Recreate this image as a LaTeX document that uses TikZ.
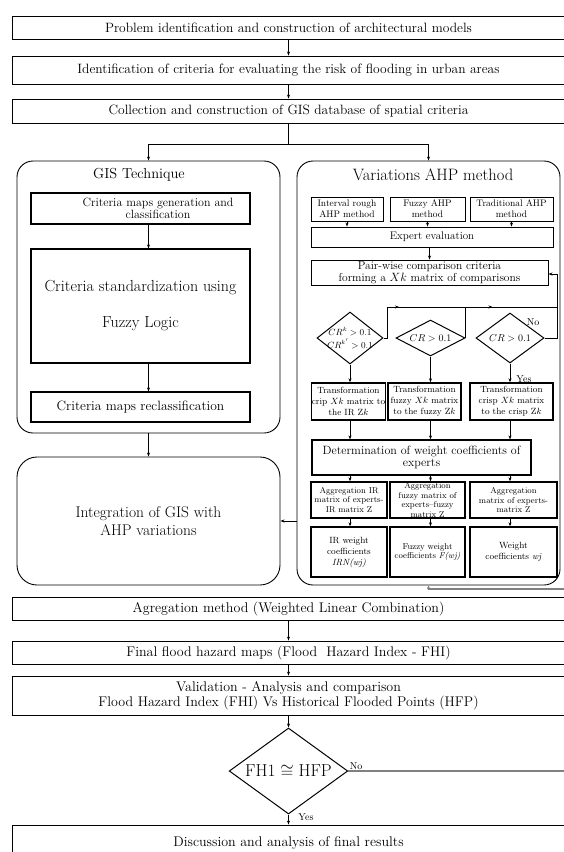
\documentclass[tikz,border=0pt]{standalone}
\usetikzlibrary{shapes.geometric,arrows.meta,calc}
\newcommand\zztop{\fontsize{13.5}{15}\selectfont}
\newcommand\zzbot{\fontsize{14}{15}\selectfont}
\newcommand\zzttl{\fontsize{14.5}{16}\selectfont}
\newcommand\zzahp{\fontsize{16.5}{18}\selectfont}
\newcommand\zzbig{\fontsize{16}{18}\selectfont}
\newcommand\zzint{\fontsize{15.5}{18}\selectfont}
\newcommand\zzgen{\fontsize{12}{12}\selectfont}
\newcommand\zzrec{\fontsize{13.5}{14}\selectfont}
\newcommand\zzdet{\fontsize{12}{12.5}\selectfont}
\newcommand\zzpair{\fontsize{11.5}{12}\selectfont}
\newcommand\zzexp{\fontsize{11}{12}\selectfont}
\newcommand\zzsm{\fontsize{10}{12}\selectfont}
\newcommand\zzxs{\fontsize{9}{11}\selectfont}
\newcommand\zzts{\fontsize{9.5}{11}\selectfont}
\newcommand\zzxxs{\fontsize{8.5}{9.6}\selectfont}
\newcommand\zzfh{\fontsize{16.5}{18}\selectfont}
\begin{document}
\begin{tikzpicture}[x=1pt,y=-1pt,
  box/.style={draw, line width=0.9pt, inner sep=1pt, align=center},
  gbox/.style={draw, line width=1.1pt, inner sep=1pt, align=center},
  tbox/.style={draw, line width=1.4pt, inner sep=0.5pt, align=center},
  rbox/.style={draw, line width=0.9pt, rounded corners=16pt},
  arr/.style={-{Stealth[length=4pt,width=3pt]}, line width=0.6pt},
  fb/.style={draw=gray, line width=1.3pt, -{Stealth[length=4pt,width=3.5pt]}},
  dia/.style={draw, diamond, line width=1pt, inner sep=0pt},
  lbl/.style={inner sep=0pt, align=center}
]
\useasboundingbox (0,0) rectangle (563,852);

% top boxes
\node[box, minimum width=553pt, minimum height=23pt, font=\zztop] (b1) at (288.5,27.5) {Problem identification and construction of architectural models};
\node[box, minimum width=553pt, minimum height=28pt, font=\zztop] (b2) at (288.5,70) {Identification of criteria for evaluating the risk of flooding in urban areas};
\node[box, minimum width=553pt, minimum height=24pt, font=\zztop] (b3) at (288.5,111) {Collection and construction of GIS database of spatial criteria};
\coordinate (br) at (288.5,144);

% GIS technique
\node[rbox, minimum width=263pt, minimum height=272pt] (gis) at (148.5,297) {};
\node[lbl, font=\zzttl] (gist) at (139,175) {GIS Technique};
\node[gbox, minimum width=219pt, minimum height=31pt] (ga) at (140.5,208.5) {};
\node[lbl, font=\zzgen] (gat) at (158,208.5) {Criteria maps generation and\\classification};
\node[gbox, minimum width=219pt, minimum height=114pt, font=\zzbig] (gb) at (140.5,306) {Criteria standardization using\\[18pt]Fuzzy Logic};
\node[gbox, minimum width=219pt, minimum height=30pt, font=\zzrec] (gc) at (140.5,407) {Criteria maps reclassification};
\node[rbox, rounded corners=20pt, minimum width=263pt, minimum height=128pt, align=center, font=\zzint] (integ) at (148.5,521) {Integration of GIS with\\AHP variations};

% AHP
\node[rbox, minimum width=263pt, minimum height=424pt] (ahp) at (428.5,373) {};
\node[lbl, font=\zzahp] (ahpt) at (433,175) {Variations AHP method};
\node[box, minimum width=72pt, minimum height=24pt, font=\zzts] (t1) at (347,209) {Interval rough\\AHP method};
\node[box, minimum width=75pt, minimum height=24pt, font=\zzts] (t2) at (427.5,209) {Fuzzy AHP\\method};
\node[box, minimum width=83pt, minimum height=24pt, font=\zzts] (t3) at (511.5,209) {Traditional AHP\\method};
\node[box, minimum width=242pt, minimum height=20pt, font=\zzexp] (exp) at (432,237) {Expert evaluation};
\node[box, minimum width=237pt, minimum height=25pt, font=\zzpair, inner sep=0.5pt] (pair) at (429.5,272.5) {Pair-wise comparison criteria\\forming a $Xk$ matrix of comparisons};

\node[dia, minimum width=66pt, minimum height=52pt] (d1) at (350,338) {};
\node[lbl, font=\zzxs] (d1t) at (d1.center) {$CR^{k}>0.1$\\[2pt]$CR^{k'}>0.1$};
\node[dia, minimum width=69pt, minimum height=36pt] (d2) at (430.5,338) {};
\node[lbl, font=\zzsm] (d2t) at (d2.center) {$CR>0.1$};
\node[dia, minimum width=68pt, minimum height=50pt] (d3) at (510,338) {};
\node[lbl, font=\zzsm] (d3t) at (d3.center) {$CR>0.1$};
\node[lbl, font=\zzsm] (no1) at (533,322) {No};
\node[lbl, font=\zzsm] (yes1) at (524,379) {Yes};

\node[tbox, minimum width=73pt, minimum height=37pt, font=\zzxs] (x1) at (348.5,401.5) {Transformation\\crip $Xk$ matrix to\\the IR Z$k$};
\node[tbox, minimum width=73pt, minimum height=37pt, font=\zzxs] (x2) at (424.5,401.5) {Transformation\\fuzzy $Xk$ matrix\\to the fuzzy Z$k$};
\node[tbox, minimum width=83pt, minimum height=37pt, font=\zzxs] (x3) at (511.5,401.5) {Transformation\\crisp $Xk$ matrix\\to the crisp Z$k$};
\node[box, line width=1.2pt, minimum width=219pt, minimum height=35pt, font=\zzdet] (det) at (421.5,457.5) {Determination of weight coefficients of\\experts};
\node[tbox, minimum width=76pt, minimum height=36pt, font=\zzxxs] (a1) at (349,500) {Aggregation IR\\matrix of experts-\\IR matrix Z};
\node[tbox, minimum width=75pt, minimum height=36pt, font=\zzxxs] (a2) at (427.5,500) {Aggregation\\fuzzy matrix of\\experts--fuzzy\\matrix Z};
\node[tbox, minimum width=87pt, minimum height=36pt, font=\zzxxs] (a3) at (513.5,500) {Aggregation\\matrix of experts-\\matrix Z};
\node[tbox, minimum width=76pt, minimum height=50pt, font=\zzxs] (w1) at (349,552) {IR weight\\coefficients\\\textit{IRN(wj)}};
\node[tbox, minimum width=75pt, minimum height=50pt, font=\zzxxs] (w2) at (427.5,552) {Fuzzy weight\\coefficients \textit{F(wj)}};
\node[tbox, minimum width=87pt, minimum height=50pt, font=\zzxs] (w3) at (513.5,552) {Weight\\coefficients \textit{wj}};

% bottom
\node[box, minimum width=553pt, minimum height=23pt, font=\zzbot] (agr) at (288.5,608.5) {Agregation method (Weighted Linear Combination)};
\node[box, minimum width=553pt, minimum height=23pt, font=\zzbot] (fin) at (288.5,652.5) {Final flood hazard maps (Flood\ \ Hazard Index - FHI)};
\node[box, minimum width=553pt, minimum height=39pt, font=\zzbot] (val) at (288.5,695.5) {Validation - Analysis and comparison\\Flood Hazard Index (FHI) Vs Historical Flooded Points (HFP)};
\node[dia, shape aspect=2.6, minimum width=111pt, minimum height=86pt, font=\zzfh] (fh) at (288.5,771) {$\mathrm{FH1}\cong\mathrm{HFP}$};
\node[lbl, font=\zzsm] (no2) at (356,766) {No};
\node[lbl, font=\zzsm] (yes2) at (306,817) {Yes};
\node[box, minimum width=553pt, minimum height=36pt, font=\zzbot] (disc) at (288.5,843) {Discussion and analysis of final results};

% connectors top
\draw[arr] (b1.south) -- (b2.north);
\draw[arr] (b2.south) -- (b3.north);
\draw[line width=0.6pt] (b3.south) -- (br);
\draw[arr] (br) -| (gis.north);
\draw[arr] (br) -| (ahp.north);

% GIS connectors
\draw[arr] (ga.south -| gis.north) -- (gb.north -| gis.north);
\draw[arr] (gb.south -| gis.north) -- (gc.north -| gis.north);
\draw[arr] (gis.south) -- (integ.north);

% AHP connectors
\draw[arr] (t1.south) -- (t1.south |- exp.north);
\draw[arr] (t2.south) -- (t2.south |- exp.north);
\draw[arr] (t3.south) -- (t3.south |- exp.north);
\draw[arr] (exp.south -| pair.north) -- (pair.north);

\coordinate (ya) at (387,307);
\coordinate (yb) at (465.5,307);
\coordinate (yc) at (557,307);
\coordinate (yd) at (557,274);
\draw[line width=0.6pt] (d1.east) -| (ya) -- (yc);
\draw[arr] (ya) -- ($(ya)+(12,0)$);
\draw[line width=0.6pt] (d2.east) -- (yb);
\draw[arr] (yb) -- ($(yb)+(27,0)$);
\draw[line width=0.6pt] (d3.east) -| (yd);
\draw[arr] (yd) -- (pair.east |- yd);

\foreach \d/\x/\a/\w in {d1/x1/a1/w1, d2/x2/a2/w2, d3/x3/a3/w3}{
  \draw[arr] (\d.south) -- (\d.south |- \x.north);
  \draw[arr] (\d.south |- \x.south) -- (\d.south |- det.north);
  \draw[arr] (\d.south |- det.south) -- (\d.south |- \a.north);
  \draw[arr] (\d.south |- \a.south) -- (\d.south |- \w.north);
}
\draw[arr] (ahp.west |- integ.east) -- (integ.east);

% bottom connectors
\draw[arr] (agr.south) -- (fin.north);
\draw[arr] (fin.south) -- (val.north);
\draw[arr] (val.south) -- (fh.north);
\draw[arr] (fh.south) -- (disc.north);
\coordinate (fbr) at (567,589);
\draw[fb] (fh.east) -| (fbr) -| (ahp.south);
\end{tikzpicture}
\end{document}
